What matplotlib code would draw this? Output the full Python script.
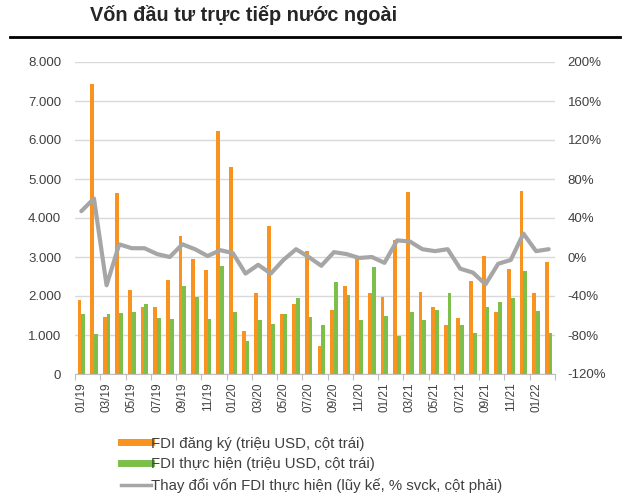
import numpy as np
import matplotlib
matplotlib.use('Agg')
import matplotlib.pyplot as plt
from matplotlib.lines import Line2D
from matplotlib.ticker import FuncFormatter

plt.rcParams['font.family'] = ['Liberation Sans', 'DejaVu Sans']

months = ['01/19', '02/19', '03/19', '04/19', '05/19', '06/19', '07/19', '08/19', '09/19', '10/19',
          '11/19', '12/19', '01/20', '02/20', '03/20', '04/20', '05/20', '06/20', '07/20', '08/20',
          '09/20', '10/20', '11/20', '12/20', '01/21', '02/21', '03/21', '04/21', '05/21', '06/21',
          '07/21', '08/21', '09/21', '10/21', '11/21', '12/21', '01/22', '02/22']

# FDI dang ky (trieu USD)
registered = [1900, 7430, 1470, 4630, 2150, 1730, 1730, 2410, 3540, 2940,
              2670, 6230, 5320, 1110, 2080, 3790, 1530, 1790, 3150, 720,
              1640, 2260, 2970, 2080, 1980, 3440, 4670, 2110, 1730, 1260,
              1440, 2380, 3030, 1580, 2700, 4690, 2080, 2880]

# FDI thuc hien (trieu USD)
disbursed = [1530, 1020, 1530, 1560, 1590, 1790, 1440, 1410, 2260, 1970,
             1410, 2760, 1590, 850, 1380, 1280, 1530, 1940, 1470, 1260,
             2350, 2030, 1380, 2750, 1500, 980, 1580, 1380, 1640, 2080,
             1260, 1060, 1710, 1850, 1940, 2650, 1620, 1060]

# thay doi von FDI thuc hien (luy ke, % svck)
change = [47, 60, -29, 13, 9, 9, 3, 0, 13, 8,
          1, 7, 4, -17, -8, -17, -3, 8, 0, -9,
          5, 3, -1, 0, -6, 17, 16, 8, 6, 8,
          -12, -16, -28, -7, -3, 24, 6, 8]

orange = '#F7931E'
green = '#7CBF4A'
grey = '#A6A6A6'
txt = '#404040'

fig = plt.figure(figsize=(6.3, 4.98), dpi=100)
fig.text(90 / 630, 1 - 15 / 498, 'Vốn đầu tư trực tiếp nước ngoài', fontsize=14.3,
         fontweight='bold', color='#262626', va='center', ha='left')
fig.add_artist(Line2D([10 / 630, 620 / 630], [1 - 37 / 498, 1 - 37 / 498],
                      color='black', lw=2, transform=fig.transFigure))

ax = fig.add_axes([75 / 630, (498 - 374) / 498, 480 / 630, 312 / 498])
x = np.arange(len(months))
w = 0.3
ax.bar(x - w / 2, registered, width=w, color=orange, zorder=2)
ax.bar(x + w / 2, disbursed, width=w, color=green, zorder=2)
ax.set_ylim(0, 8000)
ax.set_xlim(-0.5, len(months) - 0.5)
ax.set_yticks(np.arange(0, 8001, 1000))
ax.yaxis.set_major_formatter(FuncFormatter(lambda v, p: f'{int(v):,}'.replace(',', '.')))
ax.grid(axis='y', color='#D9D9D9', lw=1, zorder=0)
ax.tick_params(axis='y', length=0, labelsize=9.5, labelcolor=txt, pad=10)

ax.set_xticks(np.arange(-0.5, len(months), 2))
ax.set_xticklabels([])
ax.set_xticks(x[::2], minor=True)
ax.set_xticklabels(months[::2], minor=True, rotation=90)
ax.tick_params(axis='x', which='major', length=4, color='#BFBFBF')
ax.tick_params(axis='x', which='minor', length=0, labelsize=8.5, labelcolor=txt, pad=6)
for s in ['top', 'left', 'right']:
    ax.spines[s].set_visible(False)
ax.spines['bottom'].set_color('#BFBFBF')

ax2 = ax.twinx()
ax2.plot(x, change, color=grey, lw=3, solid_joinstyle='round', solid_capstyle='round', zorder=3)
ax2.set_ylim(-120, 200)
ax2.set_yticks(np.arange(-120, 201, 40))
ax2.yaxis.set_major_formatter(FuncFormatter(lambda v, p: f'{int(v)}%'))
ax2.tick_params(axis='y', length=0, labelsize=9.5, labelcolor=txt, pad=9)
for s in ['top', 'left', 'right', 'bottom']:
    ax2.spines[s].set_visible(False)

handles = [Line2D([], [], color=orange, lw=5),
           Line2D([], [], color=green, lw=5),
           Line2D([], [], color=grey, lw=2.5)]
labels = ['FDI đăng ký (triệu USD, cột trái)',
          'FDI thực hiện (triệu USD, cột trái)',
          'Thay đổi vốn FDI thực hiện (lũy kế, % svck, cột phải)']
fig.legend(handles, labels, loc='upper left', bbox_to_anchor=(107 / 630, 1 - 423 / 498),
           frameon=False, fontsize=10.8, handlelength=2.0, handletextpad=0.05,
           labelspacing=0.45, labelcolor=txt)

fig.savefig('out.png', dpi=100)
